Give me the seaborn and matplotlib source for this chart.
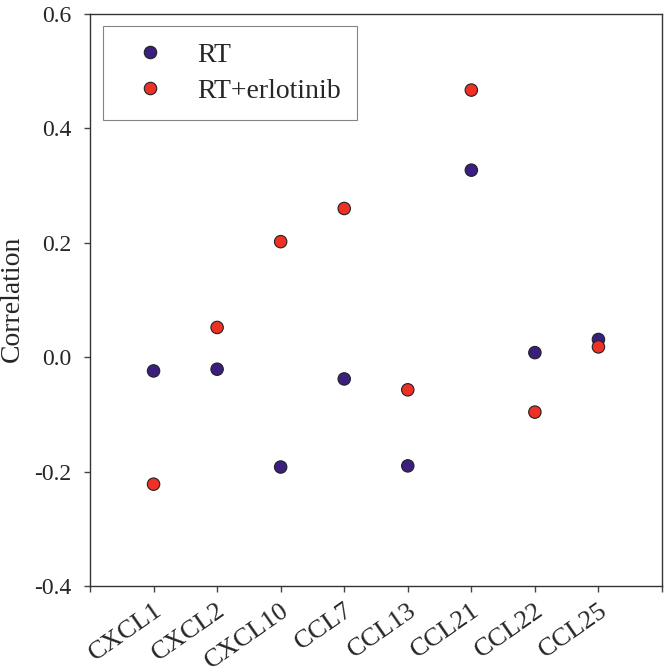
import matplotlib
matplotlib.use("Agg")
import matplotlib.pyplot as plt
import seaborn as sns
import pandas as pd

genes = ["CXCL1", "CXCL2", "CXCL10", "CCL7", "CCL13", "CCL21", "CCL22", "CCL25"]
rt = [-0.024, -0.021, -0.192, -0.038, -0.190, 0.327, 0.008, 0.031]
rt_erl = [-0.222, 0.052, 0.202, 0.260, -0.057, 0.467, -0.096, 0.018]
series_names = ["RT", "RT+erlotinib"]
yticks = [-0.4, -0.2, 0.0, 0.2, 0.4, 0.6]

sns.set_style("white")
plt.rcParams["font.family"] = ["Liberation Serif", "DejaVu Serif"]

pos = list(range(1, len(genes) + 1))
df = pd.DataFrame({
    "pos": pos + pos,
    "value": rt + rt_erl,
    "series": [series_names[0]] * len(genes) + [series_names[1]] * len(genes),
})

fig = plt.figure(figsize=(6.64, 6.72), dpi=100)
ax = fig.add_axes([90 / 664, 86 / 672, 572 / 664, 572 / 672])
sns.scatterplot(data=df, x="pos", y="value", hue="series",
                palette={"RT": "#3b1f80", "RT+erlotinib": "#ee3124"},
                s=80, edgecolor="#222222", linewidth=0.8, ax=ax, zorder=3)

ax.set_xlim(0, 9)
ax.set_ylim(-0.4, 0.6)
ax.set_xticks(range(0, 10))
ax.set_xticklabels([""] + genes + [""], rotation=35, ha="right",
                   rotation_mode="anchor", fontsize=19)
ax.set_yticks(yticks)
ax.set_yticklabels([f"{v:.1f}" for v in yticks], fontsize=17)
ax.tick_params(axis="both", direction="out", length=4.5, width=1, color="#444444",
               bottom=True, left=True)
ax.tick_params(axis="y", pad=9)
ax.tick_params(axis="x", pad=5)
for sp in ax.spines.values():
    sp.set_visible(True)
    sp.set_color("#333333")
    sp.set_linewidth(1.0)
ax.set_xlabel("")
ax.set_ylabel("Correlation", fontsize=20)
ax.yaxis.set_label_coords(-0.114, 0.502)

handles, labels = ax.get_legend_handles_labels()
leg = ax.legend(handles, labels, loc="upper left", bbox_to_anchor=(0.0235, 0.979),
                borderaxespad=0, fontsize=20, frameon=True, fancybox=False,
                edgecolor="#666666", borderpad=0.58, handlelength=2.17,
                handletextpad=0.64, labelspacing=0.4, markerscale=1.0, title=None)
leg.get_frame().set_linewidth(0.8)

fig.savefig("out.png", dpi=100)
